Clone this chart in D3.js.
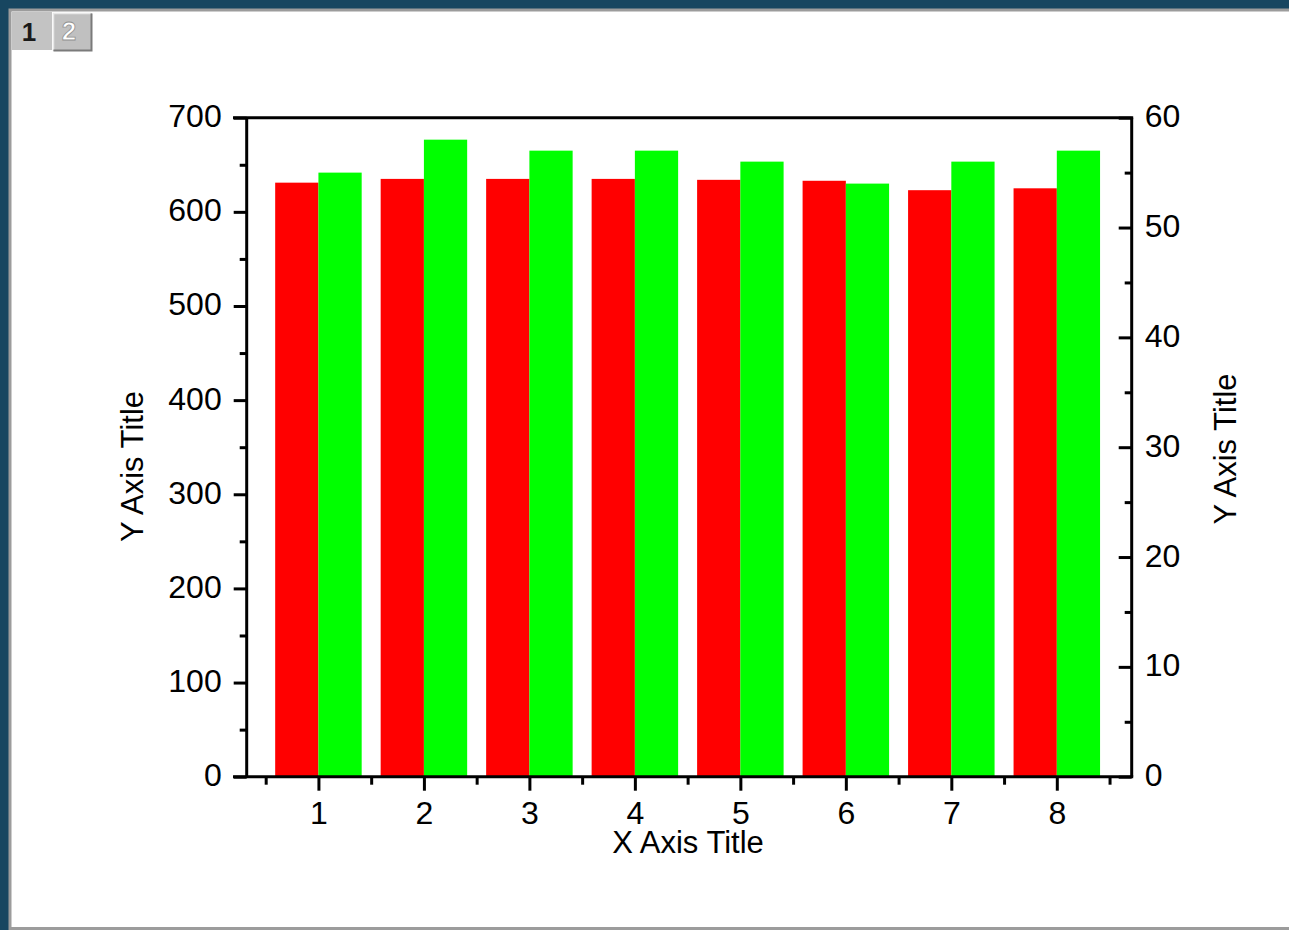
<!DOCTYPE html>
<html>
<head>
<meta charset="utf-8">
<script src="https://cdn.jsdelivr.net/npm/d3@7"></script>
<style>
  html, body { margin: 0; padding: 0; background: #174660; }
  svg { display: block; }
  text { font-family: "Liberation Sans", Arial, sans-serif; }
</style>
</head>
<body>
<svg id="chart" width="1289" height="930"></svg>
<script>
// Group labels on the x axis
const categories = [1, 2, 3, 4, 5, 6, 7, 8];
// Red columns, plotted against the left axis
const redValues = [631, 635, 635, 635, 634, 633, 623, 625];
// Green columns, plotted against the right axis
const greenValues = [55, 58, 57, 57, 56, 54, 56, 57];
// Axis tick values
const leftTicks = [0, 100, 200, 300, 400, 500, 600, 700];
const leftMinorTicks = [50, 150, 250, 350, 450, 550, 650];
const rightTicks = [0, 10, 20, 30, 40, 50, 60];
const rightMinorTicks = [5, 15, 25, 35, 45, 55];
const xMinorTicks = [0.5, 1.5, 2.5, 3.5, 4.5, 5.5, 6.5, 7.5, 8.5];

const svg = d3.select("#chart");
const W = 1289, H = 930;

// Window chrome: dark backdrop, graph page with grey border, page tabs
svg.append("rect").attr("x", 0).attr("y", 0).attr("width", W).attr("height", H).attr("fill", "#174660");
svg.append("rect").attr("x", 10).attr("y", 10).attr("width", W + 10).attr("height", H - 11.5)
  .attr("fill", "#ffffff").attr("stroke", "#9c9c9c").attr("stroke-width", 3);

const tabs = svg.append("g");
tabs.append("rect").attr("x", 12).attr("y", 12).attr("width", 40).attr("height", 38).attr("fill", "#c3c3c3");
tabs.append("text").attr("x", 29).attr("y", 41).attr("text-anchor", "middle")
  .attr("font-size", 26).attr("font-weight", "bold").attr("fill", "#1a1a1a").text("1");
tabs.append("rect").attr("x", 53).attr("y", 13).attr("width", 39).attr("height", 38).attr("fill", "#c0c0c0");
tabs.append("path").attr("d", "M53.5,50.5 V13.5 H91.5").attr("fill", "none").attr("stroke", "#e8e8e8").attr("stroke-width", 1.5);
tabs.append("path").attr("d", "M53.5,50.5 H91.5 V13.5").attr("fill", "none").attr("stroke", "#7a7a7a").attr("stroke-width", 2);
tabs.append("text").attr("x", 69).attr("y", 40).attr("text-anchor", "middle")
  .attr("font-size", 26).attr("font-weight", "bold").attr("fill", "#ffffff")
  .attr("stroke", "#8f8f8f").attr("stroke-width", 0.8).text("2");

// Plot geometry
const plotLeft = 246.7, plotRight = 1131.7, plotTop = 117.7, plotBottom = 776.7;

const x = d3.scaleLinear().domain([0.32, 8.71]).range([plotLeft, plotRight]);
const yL = d3.scaleLinear().domain([0, 700]).range([plotBottom, plotTop]);
const yR = d3.scaleLinear().domain([0, 60]).range([plotBottom, plotTop]);

const half = 0.41;

// Columns
const bars = svg.append("g");
bars.selectAll("rect.red").data(categories).join("rect")
  .attr("class", "red")
  .attr("x", d => x(d - half))
  .attr("width", d => x(d) - x(d - half))
  .attr("y", (d, i) => yL(redValues[i]))
  .attr("height", (d, i) => yL(0) - yL(redValues[i]))
  .attr("fill", "#ff0000");
bars.selectAll("rect.green").data(categories).join("rect")
  .attr("class", "green")
  .attr("x", d => x(d))
  .attr("width", d => x(d + half) - x(d))
  .attr("y", (d, i) => yR(greenValues[i]))
  .attr("height", (d, i) => yR(0) - yR(greenValues[i]))
  .attr("fill", "#00ff00");

function styleAxis(g) {
  g.select(".domain").remove();
  g.selectAll(".tick line").attr("stroke", "#000").attr("stroke-width", 3);
  g.selectAll(".tick text").attr("font-size", 32).attr("fill", "#000")
    .attr("font-family", '"Liberation Sans", Arial, sans-serif');
}

// Left axis (ticks outward)
svg.append("g").attr("transform", `translate(${plotLeft},0)`)
  .call(d3.axisLeft(yL).tickValues(leftMinorTicks).tickSize(7).tickFormat(""))
  .call(styleAxis);
svg.append("g").attr("transform", `translate(${plotLeft},0)`)
  .call(d3.axisLeft(yL).tickValues(leftTicks).tickSize(13).tickPadding(12).tickFormat(d3.format("d")))
  .call(styleAxis)
  .call(g => g.selectAll(".tick text").attr("dy", "0.28em"));

// Right axis (ticks inward)
svg.append("g").attr("transform", `translate(${plotRight},0)`)
  .call(d3.axisRight(yR).tickValues(rightMinorTicks).tickSizeInner(-7).tickSizeOuter(0).tickFormat(""))
  .call(styleAxis);
svg.append("g").attr("transform", `translate(${plotRight},0)`)
  .call(d3.axisRight(yR).tickValues(rightTicks).tickSizeInner(-13).tickSizeOuter(0).tickPadding(13).tickFormat(d3.format("d")))
  .call(styleAxis)
  .call(g => g.selectAll(".tick text").attr("dy", "0.28em"));

// Bottom axis (ticks outward)
svg.append("g").attr("transform", `translate(0,${plotBottom})`)
  .call(d3.axisBottom(x).tickValues(xMinorTicks).tickSize(8).tickFormat(""))
  .call(styleAxis);
svg.append("g").attr("transform", `translate(0,${plotBottom})`)
  .call(d3.axisBottom(x).tickValues(categories).tickSize(14).tickPadding(11).tickFormat(d3.format("d")))
  .call(styleAxis);

// Frame
const frame = svg.append("g").attr("stroke", "#000").attr("stroke-width", 3).attr("fill", "none");
frame.append("line").attr("x1", 233).attr("x2", plotRight + 1.5).attr("y1", plotTop).attr("y2", plotTop);
frame.append("line").attr("x1", 233).attr("x2", plotRight + 1.5).attr("y1", plotBottom).attr("y2", plotBottom);
frame.append("line").attr("x1", plotLeft).attr("x2", plotLeft).attr("y1", plotTop).attr("y2", plotBottom);
frame.append("line").attr("x1", plotRight).attr("x2", plotRight).attr("y1", plotTop).attr("y2", plotBottom);

// Axis titles
svg.append("text").attr("x", 688).attr("y", 853).attr("text-anchor", "middle")
  .attr("font-size", 31).attr("fill", "#000").text("X Axis Title");
svg.append("text").attr("transform", "translate(143,466.5) rotate(-90)").attr("text-anchor", "middle")
  .attr("font-size", 31).attr("fill", "#000").text("Y Axis Title");
svg.append("text").attr("transform", "translate(1236,449) rotate(-90)").attr("text-anchor", "middle")
  .attr("font-size", 31).attr("fill", "#000").text("Y Axis Title");
</script>
</body>
</html>
